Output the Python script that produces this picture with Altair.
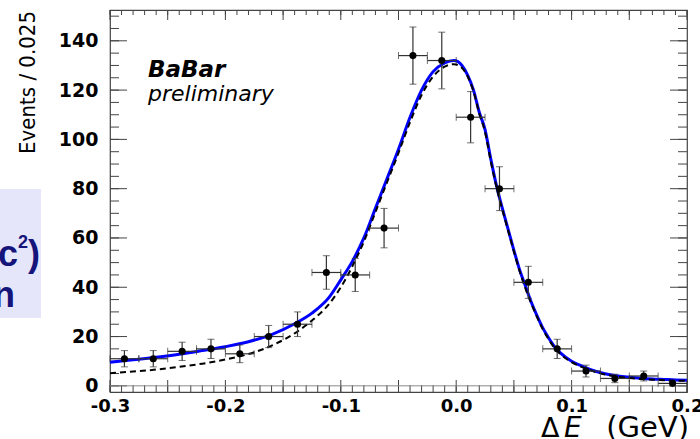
import altair as alt
import pandas as pd
import numpy as np

# ---------------- data ----------------
BIN_CENTERS = [-0.2875, -0.2625, -0.2375, -0.2125, -0.1875, -0.1625, -0.1375, -0.1125,
               -0.0875, -0.0625, -0.0375, -0.0125, 0.0125, 0.0375, 0.0625, 0.0875,
               0.1125, 0.1375, 0.1625, 0.1875]
COUNTS = [11, 11, 14, 15, 13, 20, 25, 46, 45, 64, 134, 132, 109, 80, 42, 15, 6, 3, 4, 1]
ERRORS = [3.3, 3.3, 3.7, 3.9, 3.6, 4.5, 5.0, 6.8, 6.7, 8.0, 11.6, 11.5, 10.4, 8.9, 6.5,
          3.9, 2.4, 1.7, 2.0, 1.0]
HALF_BIN = 0.0125

FIT_X = [-0.30, -0.28, -0.26, -0.24, -0.22, -0.20, -0.18, -0.16, -0.14, -0.125, -0.11,
         -0.10, -0.09, -0.08, -0.07, -0.06, -0.05, -0.04, -0.03, -0.02, -0.01, -0.002,
         0.005, 0.01, 0.015, 0.02, 0.025, 0.03, 0.035, 0.04, 0.045, 0.05, 0.055, 0.06,
         0.065, 0.07, 0.075, 0.08, 0.085, 0.09, 0.10, 0.11, 0.12, 0.13, 0.14, 0.15, 0.16,
         0.17, 0.18, 0.19, 0.20]
FIT_Y = [9.6, 10.6, 11.6, 12.8, 14.3, 15.9, 17.9, 20.8, 25.2, 29.5, 36.0,
         43.0, 50.5, 60.0, 72.0, 84.0, 96.0, 109.0, 120.0, 127.5, 131.0, 132.0,
         130.0, 126.0, 120.0, 111.0, 104.0, 92.0, 81.0, 72.0, 63.5, 55.0, 47.0, 40.5,
         34.0, 28.5, 23.5, 19.5, 16.0, 13.5, 10.0, 7.8, 6.0, 4.8, 4.0, 3.5, 3.1,
         2.8, 2.6, 2.4, 2.3]

BKG_X = FIT_X
BKG_Y = [5.1, 5.8, 6.6, 7.7, 9.0, 10.7, 12.9, 16.3, 21.3, 26.5, 33.3,
         40.0, 48.5, 58.5, 70.5, 82.5, 94.5, 107.0, 118.0, 125.5, 129.5, 130.5,
         129.0, 125.5, 119.5, 110.5, 103.0, 91.0, 80.5, 71.5, 63.0, 54.5, 46.5, 39.5,
         33.5, 28.0, 23.0, 19.0, 15.5, 13.0, 9.6, 7.4, 5.7, 4.5, 3.7, 3.2, 2.8,
         2.5, 2.3, 2.1, 2.0]

X_LABELS = [-0.3, -0.2, -0.1, 0.0, 0.1, 0.2]
Y_LABELS = [0, 20, 40, 60, 80, 100, 120, 140]

X_MAJOR_TICKS = [-0.3, -0.25, -0.2, -0.15, -0.1, -0.05, 0.0, 0.05, 0.1, 0.15, 0.2]
X_MINOR_TICKS = [round(v, 3) for v in np.arange(-0.3, 0.2001, 0.01)]
Y_MAJOR_TICKS = Y_LABELS
Y_MINOR_TICKS = list(range(0, 151, 5))

# ---------------- layout ----------------
W, H = 577, 382
xs = alt.Scale(domain=[-0.3, 0.2], nice=False, zero=False)
ys = alt.Scale(domain=[-2.5, 152.5], nice=False, zero=False)

pts = pd.DataFrame({"x": BIN_CENTERS, "y": COUNTS, "e": ERRORS})
pts["ylo"] = pts["y"] - pts["e"]
pts["yhi"] = pts["y"] + pts["e"]
pts["xlo"] = pts["x"] - HALF_BIN
pts["xhi"] = pts["x"] + HALF_BIN

fit = pd.DataFrame({"x": FIT_X, "y": FIT_Y})
bkg = pd.DataFrame({"x": BKG_X, "y": BKG_Y})

FRAME = "#444444"
ERR = "#333333"

x_axis = alt.Axis(values=X_LABELS, title=None, grid=False, domain=False, ticks=False,
                  tickSize=0, labelPadding=5, labelFont="DejaVu Sans", labelFontSize=18,
                  labelFontWeight="bold", labelColor="black", labelOverlap=False,
                  labelFlush=False, labelBound=False,
                  labelExpr="datum.value < 0 ? '-' + format(-datum.value, '.1f') : format(datum.value, '.1f')")
y_axis = alt.Axis(values=Y_LABELS, title=None, grid=False, domain=False, ticks=False,
                  tickSize=0, labelPadding=12, labelFont="DejaVu Sans", labelFontSize=19,
                  labelFontWeight="bold", labelColor="black", labelOverlap=False,
                  labelFlush=False, labelBound=False, format="d")

def xenc(field="x"):
    return alt.X(f"{field}:Q", scale=xs, axis=x_axis)

def yenc(field="y"):
    return alt.Y(f"{field}:Q", scale=ys, axis=y_axis)

# tick marks (drawn inward, ROOT style)
xmaj = pd.DataFrame({"v": X_MAJOR_TICKS})
xmin = pd.DataFrame({"v": X_MINOR_TICKS})
ymaj = pd.DataFrame({"v": Y_MAJOR_TICKS})
ymin = pd.DataFrame({"v": Y_MINOR_TICKS})

tick_layers = [
    alt.Chart(xmaj).mark_rule(color=FRAME, strokeWidth=1).encode(
        x=xenc("v"), y=alt.value(H), y2=alt.value(H - 12)),
    alt.Chart(xmin).mark_rule(color=FRAME, strokeWidth=1).encode(
        x=xenc("v"), y=alt.value(H), y2=alt.value(H - 7)),
    alt.Chart(xmaj).mark_rule(color=FRAME, strokeWidth=1).encode(
        x=xenc("v"), y=alt.value(0), y2=alt.value(10)),
    alt.Chart(xmin).mark_rule(color=FRAME, strokeWidth=1).encode(
        x=xenc("v"), y=alt.value(0), y2=alt.value(5)),
    alt.Chart(ymaj).mark_rule(color=FRAME, strokeWidth=1).encode(
        y=yenc("v"), x=alt.value(0), x2=alt.value(17)),
    alt.Chart(ymin).mark_rule(color=FRAME, strokeWidth=1).encode(
        y=yenc("v"), x=alt.value(0), x2=alt.value(9)),
    alt.Chart(ymaj).mark_rule(color=FRAME, strokeWidth=1).encode(
        y=yenc("v"), x=alt.value(W - 17), x2=alt.value(W)),
    alt.Chart(ymin).mark_rule(color=FRAME, strokeWidth=1).encode(
        y=yenc("v"), x=alt.value(W - 9), x2=alt.value(W)),
]

zero_line = alt.Chart(pd.DataFrame({"v": [0]})).mark_rule(color="#8a8a8a", strokeWidth=1).encode(
    y=yenc("v"), x=alt.value(0), x2=alt.value(W))

fit_line = alt.Chart(fit).mark_line(color="#0000ff", strokeWidth=3, interpolate="monotone").encode(
    x=xenc(), y=yenc())

bkg_line = alt.Chart(bkg).mark_line(color="black", strokeWidth=2, strokeDash=[6, 4],
                                     interpolate="monotone").encode(x=xenc(), y=yenc())

verr = alt.Chart(pts).mark_rule(color=ERR, strokeWidth=1.2).encode(
    x=xenc(), y=yenc("ylo"), y2="yhi:Q")
herr = alt.Chart(pts).mark_rule(color=ERR, strokeWidth=1.2).encode(
    x=xenc("xlo"), x2="xhi:Q", y=yenc())
cap_hi = alt.Chart(pts).mark_tick(color=ERR, orient="horizontal", size=7, thickness=1).encode(
    x=xenc(), y=yenc("yhi"))
cap_lo = alt.Chart(pts).mark_tick(color=ERR, orient="horizontal", size=7, thickness=1).encode(
    x=xenc(), y=yenc("ylo"))
cap_l = alt.Chart(pts).mark_tick(color=ERR, orient="vertical", size=7, thickness=1).encode(
    x=xenc("xlo"), y=yenc())
cap_r = alt.Chart(pts).mark_tick(color=ERR, orient="vertical", size=7, thickness=1).encode(
    x=xenc("xhi"), y=yenc())
dots = alt.Chart(pts).mark_circle(color="black", opacity=1, size=50).encode(x=xenc(), y=yenc())

def label(txt, x, y, **kw):
    return alt.Chart(pd.DataFrame({"t": [txt]})).mark_text(**kw).encode(
        text="t:N", x=alt.value(x), y=alt.value(y))

babar = label("BaBar", 38, 67, font="DejaVu Sans", fontSize=23, fontWeight="bold",
              fontStyle="italic", align="left", baseline="alphabetic", color="black")
prelim = label("preliminary", 38, 91, font="DejaVu Sans", fontSize=22, fontStyle="italic",
               align="left", baseline="alphabetic", color="black")

ytitle = label("Events / 0.025", -82, 1, font="Liberation Sans Narrow, DejaVu Sans Condensed, sans-serif",
               fontSize=22, angle=270, align="right", baseline="middle", color="black")

xt_delta = label("\u0394", 431, 427, font="DejaVu Sans", fontSize=27, align="left",
                 baseline="alphabetic", color="black")
xt_e = label("E", 454, 427, font="DejaVu Sans", fontSize=28, fontStyle="italic", align="left",
             baseline="alphabetic", color="black")
xt_gev = label("(GeV)", 579, 427, font="DejaVu Sans", fontSize=29, align="right",
               baseline="alphabetic", color="black")

NAVY = "#14147a"
box = alt.Chart(pd.DataFrame({"t": [""]})).mark_rect(color="#e6e6fa").encode(
    x=alt.value(-112), x2=alt.value(-69), y=alt.value(179), y2=alt.value(308))
side_c = label("c", -92, 256, font="Liberation Sans, Arial, sans-serif", fontSize=36,
               fontWeight="bold", align="right", baseline="alphabetic", color=NAVY)
side_sup = label("2", -92, 238, font="Liberation Sans, Arial, sans-serif", fontSize=18,
                 fontWeight="bold", align="left", baseline="alphabetic", color=NAVY)
side_par = label(")", -70, 256, font="Liberation Sans, Arial, sans-serif", fontSize=36,
                 fontWeight="bold", align="right", baseline="alphabetic", color=NAVY)
side_n = label("n", -117, 297, font="Liberation Sans, Arial, sans-serif", fontSize=36,
               fontWeight="bold", align="left", baseline="alphabetic", color=NAVY)

chart = alt.layer(
    box, side_c, side_sup, side_par, side_n,
    *tick_layers, zero_line, fit_line, bkg_line,
    verr, herr, cap_hi, cap_lo, cap_l, cap_r, dots,
    babar, prelim, ytitle, xt_delta, xt_e, xt_gev,
).properties(
    width=W, height=H, autosize="none",
    padding={"left": 110, "top": 10, "right": 13, "bottom": 47},
    background="white",
).configure_view(stroke=FRAME, strokeWidth=1.2)

chart.save("out.html", embed_options={"renderer": "svg", "actions": False})
